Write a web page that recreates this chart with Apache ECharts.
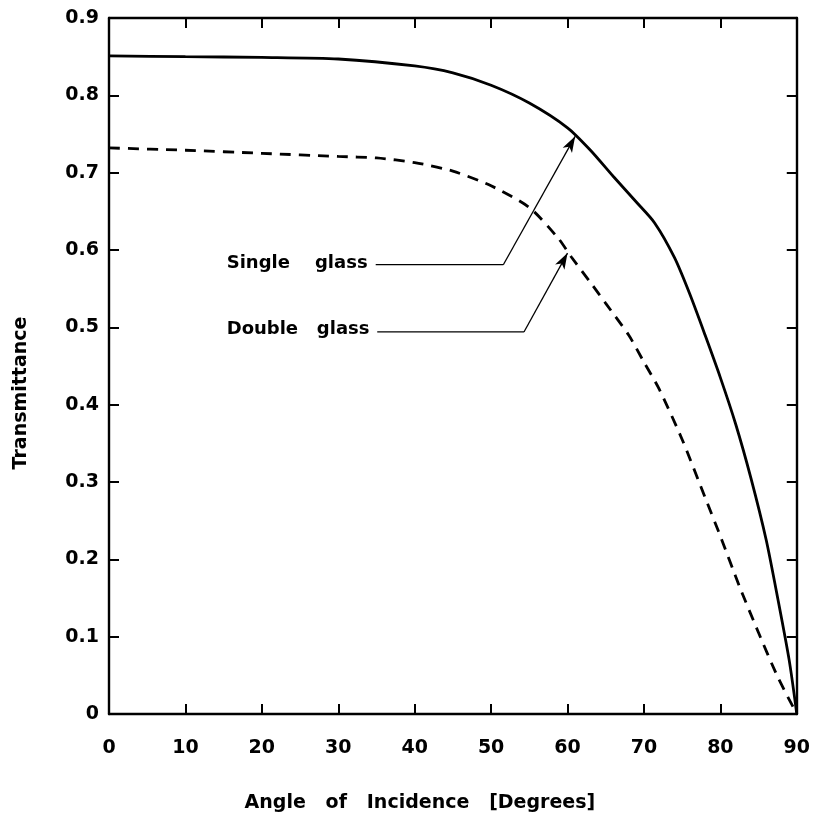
<!DOCTYPE html>
<html><head><meta charset="utf-8">
<script src="https://cdn.jsdelivr.net/npm/echarts@6/dist/echarts.min.js"></script>
<style>html,body{margin:0;padding:0;background:#fff}#c{width:813px;height:819px}</style>
</head><body><div id="c"></div>
<script>
var xTicks = [0,10,20,30,40,50,60,70,80,90];
var yTicks = [0,0.1,0.2,0.3,0.4,0.5,0.6,0.7,0.8,0.9];
var singleAngle = [0,10,20,30,40,45,50,55,60,63,66,69,71.4,74,76,78,80,82,84,86,87.5,89,90];
var singleT = [0.851,0.850,0.849,0.847,0.838,0.829,0.813,0.790,0.758,0.729,0.695,0.662,0.635,0.590,0.543,0.490,0.435,0.375,0.305,0.225,0.150,0.070,0];
var doubleAngle = [0,10,20,30,35,40,45,50,55,58.8,60.5,63,65,68,70,72,75,78,80,82.5,85,87.5,90];
var doubleT = [0.732,0.729,0.725,0.721,0.719,0.713,0.702,0.683,0.655,0.615,0.591,0.558,0.531,0.490,0.455,0.420,0.355,0.280,0.230,0.165,0.105,0.048,0];
var labelSingle = "Single    glass";
var labelDouble = "Double   glass";
var leaderSingle = [[34.9,0.581],[51.6,0.581],[61.0,0.747]];
var leaderDouble = [[35.1,0.494],[54.3,0.494],[60.0,0.596]];
var textSingle = [15.4,0.583];
var textDouble = [15.4,0.497];
var xName = "Angle   of   Incidence   [Degrees]";
var yName = "Transmittance";

function zip(a,b){return a.map(function(v,i){return [v,b[i]];});}
var FONT = 'DejaVu Sans';
var chart = echarts.init(document.getElementById('c'));
var axisLine = {show:true, onZero:false, lineStyle:{color:'#000', width:2.4}};
var tick = {show:true, inside:true, length:10, lineStyle:{color:'#000', width:2}};
function leader(pts){
  return {type:'line', data:pts.slice(0,2), symbol:'none', lineStyle:{color:'#000', width:1.3}, silent:true, z:3,
    markLine:{silent:true, symbol:['none','arrow'], symbolSize:[8,16], label:{show:false},
      lineStyle:{color:'#000', width:1.3, type:'solid'},
      data:[[{coord:pts[1]},{coord:pts[2]}]]}};
}
function textMark(pt, txt){
  return {type:'scatter', data:[pt], symbolSize:0, silent:true, z:5,
    label:{show:true, position:'right', distance:0, formatter:txt, color:'#000', opacity:1,
      fontFamily:FONT, fontWeight:'bold', fontSize:18}};
}
chart.setOption({
  animation:false,
  grid:{left:109, right:10, top:18, bottom:105},
  xAxis:[{type:'value', min:0, max:90, interval:10, position:'bottom',
    axisLine:axisLine, axisTick:tick, splitLine:{show:false},
    axisLabel:{margin:25, color:'#000', fontFamily:FONT, fontWeight:'bold', fontSize:19,
      customValues:xTicks},
    name:xName, nameLocation:'middle', nameGap:80,
    nameTextStyle:{color:'#000', fontFamily:FONT, fontWeight:'bold', fontSize:19, padding:[0,66,0,0]}},
   {type:'value', min:0, max:90, interval:10, position:'top',
    axisLine:axisLine, axisTick:tick, axisLabel:{show:false}, splitLine:{show:false}}],
  yAxis:[{type:'value', min:0, max:0.9, interval:0.1, position:'left',
    axisLine:axisLine, axisTick:tick, splitLine:{show:false},
    axisLabel:{margin:10, color:'#000', fontFamily:FONT, fontWeight:'bold', fontSize:19,
      customValues:yTicks,
      formatter:function(v){return v===0?'0':v.toFixed(1);}},
    name:yName, nameLocation:'middle', nameGap:78,
    nameTextStyle:{color:'#000', fontFamily:FONT, fontWeight:'bold', fontSize:19, padding:[0,54,0,0]}},
   {type:'value', min:0, max:0.9, interval:0.1, position:'right',
    axisLine:axisLine, axisTick:tick, axisLabel:{show:false}, splitLine:{show:false}}],
  series:[
    {type:'line', data:zip(singleAngle,singleT), smooth:0.25, symbol:'none',
     lineStyle:{color:'#000', width:2.8}, z:4},
    {type:'line', data:zip(doubleAngle,doubleT), smooth:0.25, symbol:'none',
     lineStyle:{color:'#000', width:2.8, type:[11,8]}, z:4},
    leader(leaderSingle), leader(leaderDouble),
    textMark(textSingle, labelSingle), textMark(textDouble, labelDouble)
  ]
});
</script></body></html>
